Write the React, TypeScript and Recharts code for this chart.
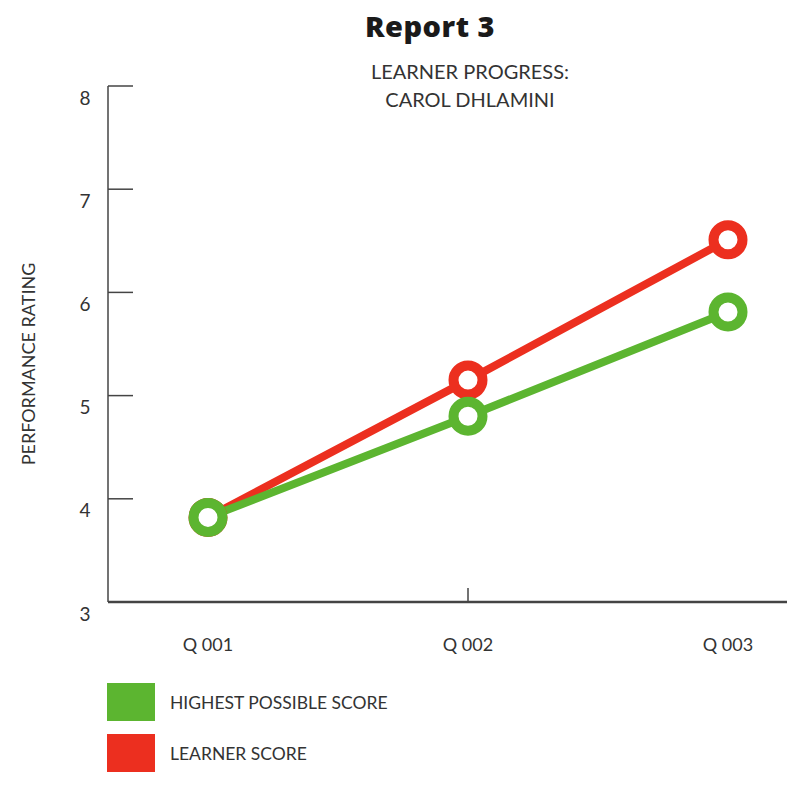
import React from 'react';
import { LineChart, Line, XAxis, YAxis, Legend, Label } from 'recharts';

const categories = ['Q 001', 'Q 002', 'Q 003'];
const highestPossible = [3.82, 4.8, 5.81];
const learnerScore = [3.82, 5.15, 6.51];
const yTicks = [3, 4, 5, 6, 7, 8];

const GREEN = '#5cb530';
const RED = '#ec2f1f';
const FONT = 'Lato, "Open Sans", sans-serif';

const data = categories.map((c, i) => ({
  name: c,
  highest: highestPossible[i],
  learner: learnerScore[i],
}));

const YTick = (props: any) => {
  const { x, y, payload } = props;
  return (
    <g>
      <line x1={x} y1={y} x2={x + 25} y2={y} stroke="#444" strokeWidth={1.5} />
      <text x={x - 23} y={y + 11} textAnchor="middle" dominantBaseline="central" fontFamily={FONT} fontSize={19} fill="#333">
        {payload.value}
      </text>
    </g>
  );
};

const XTick = (props: any) => {
  const { x, y, payload, index } = props;
  return (
    <g>
      {index === 1 && <line x1={x} y1={y} x2={x} y2={y - 14} stroke="#444" strokeWidth={1.5} />}
      <text x={x} y={y + 42} textAnchor="middle" dominantBaseline="central" fontFamily={FONT} fontSize={18} fill="#333">
        {payload.value}
      </text>
    </g>
  );
};

const makeDot = (color: string) => (props: any) => {
  const { cx, cy, index } = props;
  return <circle key={index} cx={cx} cy={cy} r={14.5} stroke={color} strokeWidth={10} fill="#fff" />;
};

const legendItems = [
  { label: 'HIGHEST POSSIBLE SCORE', color: GREEN },
  { label: 'LEARNER SCORE', color: RED },
];

const LegendContent = () => (
  <div>
    {legendItems.map((it) => (
      <div key={it.label} style={{ display: 'flex', alignItems: 'center', height: 38, marginBottom: 13 }}>
        <div style={{ width: 48, height: 38, background: it.color }} />
        <span style={{ marginLeft: 15, fontFamily: FONT, fontSize: 17.5, color: '#333' }}>{it.label}</span>
      </div>
    ))}
  </div>
);

export default function App() {
  return (
    <div style={{ position: 'relative', margin: -8, width: 795, height: 796, background: '#fff', overflow: 'hidden' }}>
      <div style={{ position: 'absolute', left: 0, width: 860, top: 6, textAlign: 'center', fontFamily: '"Open Sans", sans-serif', fontWeight: 800, fontSize: 29, letterSpacing: 0.5, color: '#1a1a1a' }}>
        Report 3
      </div>
      <div style={{ position: 'absolute', left: 0, width: 940, top: 57, textAlign: 'center', fontFamily: FONT, fontSize: 20, lineHeight: '28px', color: '#333' }}>
        LEARNER PROGRESS:
        <br />
        CAROL DHLAMINI
      </div>
      <LineChart width={795} height={796} data={data} margin={{ top: 86, right: 0, bottom: 0, left: 0 }}>
        <XAxis
          dataKey="name"
          padding={{ left: 100, right: 67 }}
          axisLine={{ stroke: '#444', strokeWidth: 2.5 }}
          tickLine={false}
          tickSize={0}
          tickMargin={0}
          tick={<XTick />}
          height={194}
        />
        <YAxis
          domain={[3, 8]}
          ticks={yTicks}
          width={108}
          axisLine={{ stroke: '#444', strokeWidth: 1.5 }}
          tickLine={false}
          tickSize={0}
          tickMargin={0}
          tick={<YTick />}
          interval={0}
        >
          <Label
            content={() => (
              <text x={28} y={364} transform="rotate(-90 28 364)" textAnchor="middle" dominantBaseline="central" fontFamily={FONT} fontSize={18} fill="#333">
                PERFORMANCE RATING
              </text>
            )}
          />
        </YAxis>
        <Legend
          layout="horizontal"
          verticalAlign="middle"
          align="center"
          content={<LegendContent />}
          wrapperStyle={{ position: 'absolute', left: 107, top: 683, width: 320 }}
        />
        <Line type="linear" dataKey="learner" stroke={RED} strokeWidth={8} dot={makeDot(RED)} activeDot={false} isAnimationActive={false} />
        <Line type="linear" dataKey="highest" stroke={GREEN} strokeWidth={8} dot={makeDot(GREEN)} activeDot={false} isAnimationActive={false} />
      </LineChart>
    </div>
  );
}
